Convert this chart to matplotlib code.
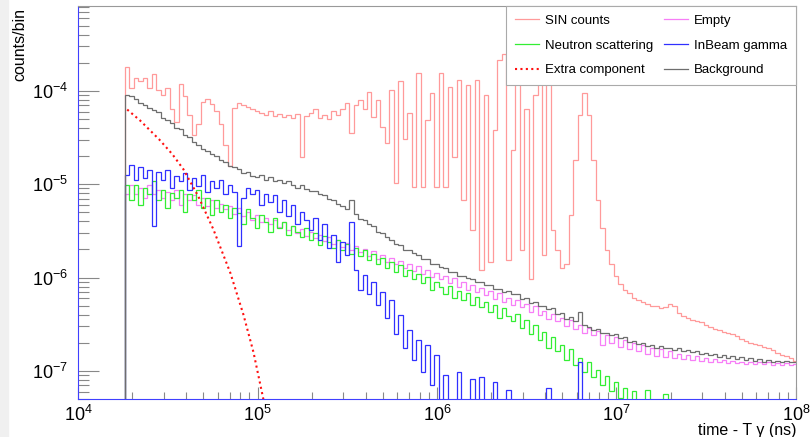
import numpy as np
import matplotlib
matplotlib.use('Agg')
import matplotlib.pyplot as plt
from matplotlib.patches import Rectangle

plt.rcParams['font.family'] = ['Liberation Sans', 'DejaVu Sans']
plt.rcParams['mathtext.default'] = 'regular'

# log-spaced time bins (ns), 40 bins per decade
edges = np.logspace(4.26, 8.01, 151)

# bin contents as log10(counts/bin); None = empty bin
sin_log = [-3.75, -3.97, -3.86, -3.90, -3.86, -3.97, -3.82, -3.99, -4.04, -3.97,
           -4.20, -4.33, -3.93, -4.06, -4.26, -4.47, -4.36, -4.12, -4.09, -4.14,
           -4.22, -4.36, -4.58, -4.80, -4.18, -4.13, -4.15, -4.17, -4.20, -4.22,
           -4.24, -4.26, -4.22, -4.27, -4.25, -4.28, -4.26, -4.29, -4.25, -4.71,
           -4.27, -4.24, -4.20, -4.29, -4.26, -4.30, -4.22, -4.26, -4.20, -4.13,
           -4.45, -4.15, -4.10, -4.20, -4.01, -4.28, -4.10, -4.39, -4.56, -3.99,
           -4.99, -3.90, -4.52, -4.24, -5.03, -3.81, -5.03, -4.31, -4.02, -5.03,
           -3.81, -5.03, -3.96, -4.71, -3.88, -5.17, -3.94, -5.49, -3.88, -5.92,
           -4.04, -5.83, -4.42, -3.67, -3.61, -5.81, -4.63, -3.81, -5.70, -4.20,
           -6.02, -4.04, -3.91, -5.76, -3.81, -5.49, -5.70, -5.90, -5.86, -5.33,
           -4.74, -4.26, -4.02, -4.26, -4.74, -5.17, -5.47, -5.70, -5.86, -5.98,
           -6.07, -6.13, -6.17, -6.22, -6.24, -6.26, -6.28, -6.30, -6.31, -6.33,
           -6.32, -6.28, -6.30, -6.38, -6.41, -6.43, -6.45, -6.47, -6.48, -6.51,
           -6.53, -6.55, -6.56, -6.58, -6.59, -6.61, -6.63, -6.66, -6.68, -6.70,
           -6.71, -6.72, -6.74, -6.76, -6.78, -6.81, -6.83, -6.84, -6.86, -6.89]

empty_log = [-5.11, -5.01, -5.11, -5.04, -5.15, -5.01, -5.11, -5.06, -5.15, -5.08,
             -5.17, -5.06, -5.22, -5.11, -5.17, -5.12, -5.22, -5.15, -5.23, -5.17,
             -5.25, -5.21, -5.27, -5.23, -5.32, -5.26, -5.34, -5.30, -5.38, -5.33,
             -5.40, -5.36, -5.43, -5.38, -5.46, -5.41, -5.49, -5.45, -5.52, -5.48,
             -5.55, -5.51, -5.58, -5.54, -5.61, -5.57, -5.64, -5.60, -5.67, -5.63,
             -5.70, -5.66, -5.73, -5.69, -5.77, -5.72, -5.80, -5.76, -5.83, -5.79,
             -5.86, -5.82, -5.90, -5.85, -5.93, -5.88, -5.96, -5.92, -5.99, -5.95,
             -6.02, -5.98, -6.06, -6.01, -6.10, -6.05, -6.13, -6.08, -6.16, -6.11,
             -6.19, -6.14, -6.23, -6.17, -6.26, -6.22, -6.29, -6.24, -6.32, -6.28,
             -6.37, -6.31, -6.40, -6.36, -6.44, -6.39, -6.47, -6.43, -6.52, -6.46,
             -6.55, -6.51, -6.59, -6.54, -6.62, -6.57, -6.72, -6.62, -6.70, -6.64,
             -6.74, -6.67, -6.77, -6.70, -6.79, -6.72, -6.82, -6.75, -6.84, -6.77,
             -6.85, -6.79, -6.86, -6.82, -6.87, -6.83, -6.88, -6.84, -6.89, -6.86,
             -6.90, -6.87, -6.91, -6.88, -6.92, -6.89, -6.92, -6.90, -6.93, -6.90,
             -6.93, -6.91, -6.93, -6.91, -6.94, -6.92, -6.94, -6.92, -6.94, -6.93]

neutron_log = [-5.01, -5.17, -5.01, -5.22, -5.04, -5.11, -4.97, -5.17, -5.06, -5.25,
               -5.09, -5.15, -5.06, -5.30, -5.11, -5.17, -5.06, -5.25, -5.15, -5.33,
               -5.17, -5.30, -5.22, -5.36, -5.25, -5.31, -5.43, -5.27, -5.36, -5.47,
               -5.33, -5.40, -5.51, -5.36, -5.47, -5.40, -5.54, -5.45, -5.51, -5.57,
               -5.47, -5.60, -5.52, -5.65, -5.55, -5.62, -5.68, -5.60, -5.70, -5.64,
               -5.75, -5.68, -5.77, -5.71, -5.81, -5.75, -5.85, -5.79, -5.90, -5.83,
               -5.94, -5.87, -5.98, -5.92, -6.02, -5.96, -6.06, -5.99, -6.13, -6.05,
               -6.10, -6.18, -6.09, -6.22, -6.14, -6.24, -6.17, -6.29, -6.21, -6.32,
               -6.26, -6.37, -6.29, -6.43, -6.33, -6.41, -6.47, -6.39, -6.54, -6.45,
               -6.61, -6.51, -6.67, -6.58, -6.75, -6.64, -6.79, -6.72, -6.88, -6.77,
               -6.94, -6.86, -7.01, -6.90, -7.07, -6.99, -7.15, -7.05, -7.22, -7.12,
               -7.29, -7.18, None, -7.22, None, None, -7.20, None, None, None,
               -7.25, None, None, None, None, None, None, None, None, None,
               None, None, None, None, None, None, None, None, None, None,
               None, None, None, None, None, None, None, None, None, None]

inbeam_log = [-4.90, -4.79, -4.95, -4.82, -4.93, -4.85, -5.45, -4.87, -4.95, -4.85,
              -5.04, -4.91, -4.97, -4.88, -5.06, -4.93, -5.02, -4.90, -5.08, -4.97,
              -5.04, -4.95, -5.11, -5.01, -5.08, -5.66, -5.15, -5.04, -5.11, -5.06,
              -5.22, -5.10, -5.19, -5.12, -5.30, -5.17, -5.34, -5.22, -5.43, -5.30,
              -5.38, -5.49, -5.36, -5.60, -5.43, -5.68, -5.54, -5.83, -5.62, -5.76,
              -5.40, -5.92, -6.13, -5.97, -6.18, -6.05, -6.29, -6.15, -6.43, -6.24,
              -6.61, -6.40, -6.75, -6.56, -6.88, -6.67, -7.01, -6.72, -7.15, -6.83,
              None, -7.04, None, None, -7.01, None, None, -7.09, None, -7.07,
              None, None, -7.12, None, None, -7.20, None, None, None, None,
              None, None, None, None, -7.18, None, None, None, None, None,
              None, -6.90, None, None, None, None, None, None, None, None,
              None, None, None, None, None, None, None, None, None, None,
              None, None, None, None, None, None, None, None, None, None,
              None, None, None, None, None, None, None, None, None, None,
              None, None, None, None, None, None, None, None, None, None]

background_log = [-4.05, -4.06, -4.09, -4.13, -4.15, -4.18, -4.21, -4.23, -4.29, -4.31,
                  -4.35, -4.40, -4.41, -4.47, -4.49, -4.55, -4.58, -4.62, -4.64, -4.68,
                  -4.70, -4.74, -4.76, -4.80, -4.82, -4.84, -4.88, -4.87, -4.91, -4.92,
                  -4.90, -4.95, -4.92, -4.97, -4.95, -4.99, -4.97, -5.01, -5.04, -5.01,
                  -5.05, -5.07, -5.07, -5.11, -5.12, -5.16, -5.17, -5.21, -5.23, -5.27,
                  -5.17, -5.32, -5.37, -5.38, -5.43, -5.45, -5.51, -5.52, -5.57, -5.60,
                  -5.64, -5.65, -5.70, -5.70, -5.74, -5.76, -5.80, -5.80, -5.85, -5.85,
                  -5.89, -5.90, -5.94, -5.94, -5.98, -5.98, -6.01, -6.02, -6.05, -6.05,
                  -6.08, -6.08, -6.12, -6.12, -6.15, -6.14, -6.18, -6.18, -6.23, -6.22,
                  -6.27, -6.26, -6.30, -6.30, -6.34, -6.33, -6.39, -6.38, -6.44, -6.42,
                  -6.47, -6.37, -6.51, -6.53, -6.56, -6.55, -6.59, -6.59, -6.62, -6.61,
                  -6.65, -6.64, -6.69, -6.68, -6.71, -6.70, -6.73, -6.72, -6.75, -6.73,
                  -6.76, -6.75, -6.78, -6.76, -6.79, -6.78, -6.80, -6.79, -6.82, -6.81,
                  -6.83, -6.82, -6.85, -6.83, -6.86, -6.84, -6.87, -6.85, -6.88, -6.86,
                  -6.89, -6.87, -6.90, -6.88, -6.90, -6.89, -6.91, -6.89, -6.91, -6.90]

# extra component (smooth function)
extra_t = [1.88e4, 2.22e4, 2.84e4, 3.35e4, 3.86e4, 4.68e4, 5.67e4, 7.06e4, 8.35e4, 9.5e4, 1.08e5]
extra_v = [6.3e-5, 4.8e-5, 3.0e-5, 2.1e-5, 1.45e-5, 7.4e-6, 3.3e-6, 1.12e-6, 4.0e-7, 1.58e-7, 4.9e-8]


def to_counts(log_vals):
    return np.array([0.0 if v is None else 10.0 ** v for v in log_vals])


fig = plt.figure(figsize=(8.12, 4.37), dpi=100)
fig.patches.append(Rectangle((0, 0), 8 / 812, 1, transform=fig.transFigure,
                             color='#f0f0f0', zorder=-1))
ax = fig.add_axes([78 / 812, 38 / 437, 718 / 812, 393 / 437])
ax.set_xscale('log')
ax.set_yscale('log')

floor = 1e-12
series = [
    ('SIN counts', sin_log, '#ff9a9a'),
    ('Empty', empty_log, '#f77ef7'),
    ('Neutron scattering', neutron_log, '#33ee33'),
    ('InBeam gamma', inbeam_log, '#3030ff'),
]
handles = {}
for name, vals, col in series:
    v = to_counts(vals)
    v = np.where(v > 0, v, floor)
    handles[name] = ax.stairs(v, edges, baseline=floor, color=col, lw=0.9, label=name)

handles['Extra component'], = ax.plot(extra_t, extra_v, color='#ff1010', lw=1.5,
                                      ls=(0, (1, 1.6)), label='Extra component')
v = to_counts(background_log)
handles['Background'] = ax.stairs(v, edges, baseline=floor, color='#6e6e6e', lw=0.9,
                                  label='Background')

ax.set_xlim(1e4, 1e8)
ax.set_ylim(5e-8, 8.1e-4)

for side in ['top', 'right']:
    ax.spines[side].set_color('#999999')
ax.spines['left'].set_color('#4040ff')
ax.spines['bottom'].set_color('#4040ff')

ax.tick_params(which='both', direction='in', top=False, right=False, color='#888888', width=0.8)
ax.tick_params(axis='y', which='major', length=15, labelsize=13, pad=7)
ax.tick_params(axis='y', which='minor', length=8)
ax.tick_params(axis='x', which='major', length=9, labelsize=13, pad=4)
ax.tick_params(axis='x', which='minor', length=5)

fig.text(20 / 812, 1 - 8 / 437, 'counts/bin', rotation=90, ha='center', va='top', fontsize=11.5)
fig.text(797 / 812, 1 - 430 / 437, 'time - T γ (ns)', ha='right', va='center', fontsize=11.5)

order = ['SIN counts', 'Neutron scattering', 'Extra component',
         'Empty', 'InBeam gamma', 'Background']
leg = ax.legend([handles[k] for k in order], order, ncol=2, loc='upper right',
                bbox_to_anchor=(1.0, 1.0), fontsize=9.5, frameon=True, fancybox=False,
                edgecolor='#aaaaaa', framealpha=1, borderaxespad=0.0,
                handlelength=1.8, handletextpad=0.5, columnspacing=0.8,
                labelspacing=0.95, borderpad=0.65)
leg.get_frame().set_linewidth(0.8)

fig.savefig('out.png', dpi=100)
